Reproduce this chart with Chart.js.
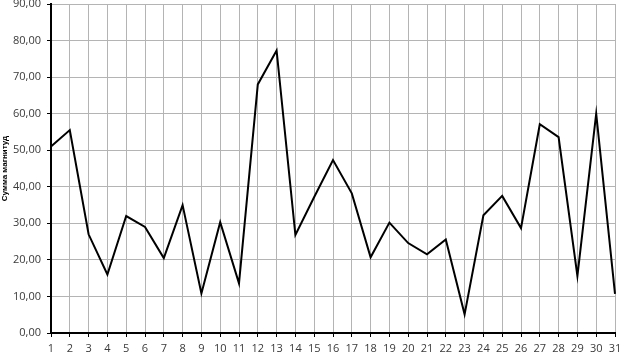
<!DOCTYPE html>
<html>
<head>
<meta charset="utf-8">
<script src="https://cdn.jsdelivr.net/npm/chart.js@4.4.0/dist/chart.umd.min.js"></script>
<style>
  html, body { margin: 0; padding: 0; background: #fff; }
  #wrap { width: 620px; height: 353px; }
</style>
</head>
<body>
<div id="wrap"><canvas id="c"></canvas></div>
<script>
// дни (ось X)
const days = [1,2,3,4,5,6,7,8,9,10,11,12,13,14,15,16,17,18,19,20,21,22,23,24,25,26,27,28,29,30,31];
// сумма магнитуд
const sums = [51, 55.5, 27, 16, 32, 29, 20.5, 35, 10.8, 30.3, 13.6, 68, 77.3, 26.8, 37.2, 47.3, 38.2, 20.7, 30.2, 24.6, 21.5, 25.6, 5.1, 32.2, 37.5, 28.7, 57.1, 53.6, 15.6, 60, 10.7];
const yTicks = [0, 10, 20, 30, 40, 50, 60, 70, 80, 90];

const fmt = v => v.toFixed(2).replace('.', ',');

new Chart(document.getElementById('c'), {
    type: 'line',
    data: {
        labels: days,
        datasets: [{ data: sums, borderColor: '#000', borderWidth: 2, pointRadius: 0, tension: 0, fill: false }]
    },
    options: {
        responsive: true,
        maintainAspectRatio: false,
        animation: false,
        layout: { padding: { top: 4, right: 5, left: 0, bottom: 0 } },
        plugins: { legend: { display: false }, tooltip: { enabled: false } },
        scales: {
            x: {
                offset: false,
                grid: { color: '#b4b4b4', lineWidth: 1, tickLength: 4, tickColor: '#000' },
                border: { color: '#000', width: 2 },
                ticks: { color: '#3a3a3a', font: { family: 'Open Sans', size: 11 }, autoSkip: false, maxRotation: 0, padding: 5 },
                afterFit: s => { s.height = 20; s.paddingLeft = 0; s.paddingRight = 0; }
            },
            y: {
                min: 0, max: 90,
                afterBuildTicks: s => { s.ticks = yTicks.map(v => ({ value: v })); },
                grid: { color: '#b4b4b4', lineWidth: 1, tickLength: 4, tickColor: '#000' },
                border: { color: '#000', width: 2 },
                ticks: { color: '#3a3a3a', font: { family: 'Open Sans', size: 11 }, padding: 6, callback: v => fmt(v) },
                title: { display: true, text: 'Сумма магнитуд', color: '#000', font: { family: 'Liberation Sans', size: 8, weight: 'bold' }, padding: 0 },
                afterFit: s => { s.width = 51; s.paddingTop = 0; s.paddingBottom = 0; }
            }
        }
    }
});
</script>
</body>
</html>
